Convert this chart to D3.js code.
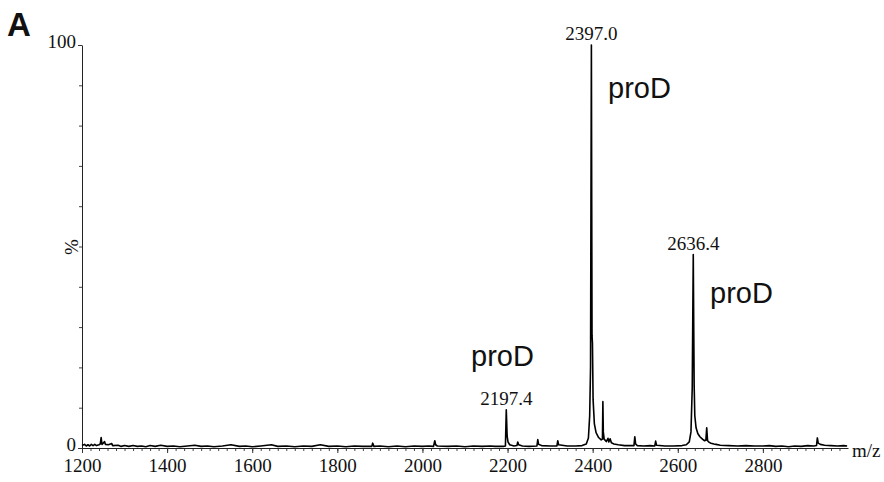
<!DOCTYPE html>
<html>
<head>
<meta charset="utf-8">
<script src="https://cdn.jsdelivr.net/npm/d3@7"></script>
<style>
body { margin:0; background:#fff; }
svg text { fill:#111; }
</style>
</head>
<body>
<script>
// spectrum profile (m/z, relative intensity %)
var mzValues = [1200,1206,1210,1214,1218,1222,1226,1230,1234,1240,1243,1245,1247,1250,1253,1255,1262,1270,1272,1285,1292,1300,1310,1320,1330,1340,1350,1360,1372,1385,1400,1415,1430,1448,1465,1480,1495,1510,1530,1550,1570,1585,1600,1620,1645,1660,1680,1700,1720,1740,1760,1780,1800,1820,1840,1860,1881,1883,1886,1900,1920,1940,1960,1980,2000,2015,2026,2029,2031,2035,2060,2080,2100,2120,2140,2160,2170,2190,2195,2197,2199,2201,2205,2215,2222,2224,2226,2235,2250,2269,2271,2273,2280,2300,2316,2318,2320,2340,2360,2375,2385,2390,2393,2395,2396,2397,2397.8,2398.5,2399.5,2401,2404,2408,2414,2420,2423,2424,2425,2427,2432,2436,2438,2441,2444,2450,2460,2475,2490,2497,2499,2501,2505,2520,2535,2546,2548,2550,2570,2590,2610,2620,2627,2631,2634,2636.4,2637.5,2638.5,2640,2643,2647,2652,2658,2663,2666,2668,2670,2674,2678,2685,2690,2700,2720,2740,2760,2780,2800,2815,2830,2845,2860,2875,2890,2905,2920,2926,2928,2930,2935,2945,2960,2975,2990,2998];
var intensities = [0.6,0.9,0.5,0.8,0.5,0.9,0.6,0.9,0.6,0.8,1.0,2.6,0.9,1.2,1.6,0.9,0.8,1.1,0.6,0.7,0.4,0.6,0.4,0.6,0.4,0.5,0.3,0.6,0.4,0.7,0.4,0.5,0.3,0.5,0.7,0.4,0.5,0.3,0.5,0.8,0.4,0.5,0.3,0.5,0.8,0.4,0.5,0.3,0.5,0.4,0.8,0.4,0.5,0.3,0.5,0.4,0.4,1.2,0.4,0.5,0.3,0.5,0.3,0.5,0.4,0.5,0.4,1.8,0.8,0.5,0.4,0.5,0.3,0.5,0.4,0.5,0.4,0.4,0.5,9.5,3.0,1.5,0.8,0.5,0.6,1.5,0.8,0.5,0.4,0.5,2.1,0.9,0.6,0.5,0.5,1.8,0.8,0.5,0.5,0.6,1.0,2.5,8,20,60,100,60,28,26,12,6,3.8,2.6,2.0,2.2,11.5,4,2.2,1.6,2.4,1.5,2.3,1.3,1.0,0.8,0.6,0.6,0.6,2.8,1.0,0.6,0.5,0.6,0.5,1.7,0.7,0.5,0.5,0.6,0.8,1.5,4,15,48,30,15.5,8,5,3.6,2.8,2.2,1.8,1.9,5.0,1.8,1.4,1.2,1.0,0.9,0.7,0.6,0.5,0.6,0.5,0.5,0.6,0.4,0.5,0.3,0.5,0.4,0.6,0.5,0.6,2.5,1.2,0.9,0.7,0.6,0.5,0.6,0.5];

var peakMz = [2397, 2636.4, 2197];
var peakLabels = ["2397.0", "2636.4", "2197.4"];
var peakIntensity = [100, 48, 9.5];

var xTicks = [1200,1400,1600,1800,2000,2200,2400,2600,2800];
var yTicks = [0, 100];

var svg = d3.select("body").append("svg")
	.attr("width", 884)
	.attr("height", 482);

var x = d3.scaleLinear().domain([1200, 3000]).range([82, 848]);
var y = d3.scaleLinear().domain([0, 100]).range([448, 45]);

// x axis: minor ticks every 20, then major ticks with labels
svg.append("g")
	.attr("transform", "translate(0,448)")
	.call(d3.axisBottom(x).tickValues(d3.range(1200, 3000, 20)).tickSize(3).tickFormat(""))
	.call(function(g){ g.select(".domain").remove(); g.selectAll("line").attr("stroke","#444"); });

svg.append("g")
	.attr("transform", "translate(0,448)")
	.call(d3.axisBottom(x).tickValues(xTicks).tickSize(5).tickSizeOuter(0).tickFormat(d3.format("d")))
	.call(function(g){
		g.select(".domain").attr("stroke","#222");
		g.selectAll("line").attr("stroke","#333");
		g.selectAll("text")
			.attr("font-family","'Liberation Serif', serif")
			.attr("font-size","19px")
			.attr("fill","#111")
			.attr("dy","0.85em");
	});

// y axis
svg.append("g")
	.attr("transform", "translate(82,0)")
	.call(d3.axisLeft(y).tickValues(d3.range(0, 101, 10)).tickSize(3).tickFormat(""))
	.call(function(g){ g.select(".domain").remove(); g.selectAll("line").attr("stroke","#444"); });

svg.append("g")
	.attr("transform", "translate(82,0)")
	.call(d3.axisLeft(y).tickValues(yTicks).tickSize(4).tickSizeOuter(0).tickPadding(2))
	.call(function(g){
		g.select(".domain").attr("stroke","#222");
		g.selectAll("line").attr("stroke","#333");
		g.selectAll("text")
			.attr("font-family","'Liberation Serif', serif")
			.attr("font-size","19px")
			.attr("fill","#111")
			.attr("dy","0.15em");
	});

// spectrum trace
var points = mzValues.map(function(d,i){ return [d, intensities[i]]; });
var line = d3.line()
	.x(function(d){ return x(d[0]); })
	.y(function(d){ return y(d[1]); });

svg.append("path")
	.datum(points)
	.attr("d", line)
	.attr("fill","none")
	.attr("stroke","#000")
	.attr("stroke-width",1.6)
	.attr("stroke-linejoin","round");

// peak labels
svg.selectAll("text.peak")
	.data(peakLabels)
	.enter().append("text")
		.attr("class","peak")
		.attr("x", function(d,i){ return x(peakMz[i]); })
		.attr("y", function(d,i){ return y(peakIntensity[i]) - 5; })
		.attr("text-anchor","middle")
		.attr("font-family","'Liberation Serif', serif")
		.attr("font-size","19px")
		.text(function(d){ return d; });

// proD annotations
var proDPos = [[608, 98], [710, 303], [471, 366]];
svg.selectAll("text.prod")
	.data(proDPos)
	.enter().append("text")
		.attr("class","prod")
		.attr("x", function(d){ return d[0]; })
		.attr("y", function(d){ return d[1]; })
		.attr("font-family","'Liberation Sans', Arial, sans-serif")
		.attr("font-size","29px")
		.text("proD");

// axis titles and panel letter
svg.append("text")
	.attr("x", 852).attr("y", 457)
	.attr("font-family","'Liberation Serif', serif")
	.attr("font-size","19px")
	.text("m/z");

svg.append("text")
	.attr("transform","translate(78,247) rotate(-90)")
	.attr("text-anchor","middle")
	.attr("font-family","'Liberation Serif', serif")
	.attr("font-size","19px")
	.text("%");

svg.append("text")
	.attr("x", 7).attr("y", 36)
	.attr("font-family","'Liberation Sans', Arial, sans-serif")
	.attr("font-weight","bold")
	.attr("font-size","33px")
	.text("A");
</script>
</body>
</html>
